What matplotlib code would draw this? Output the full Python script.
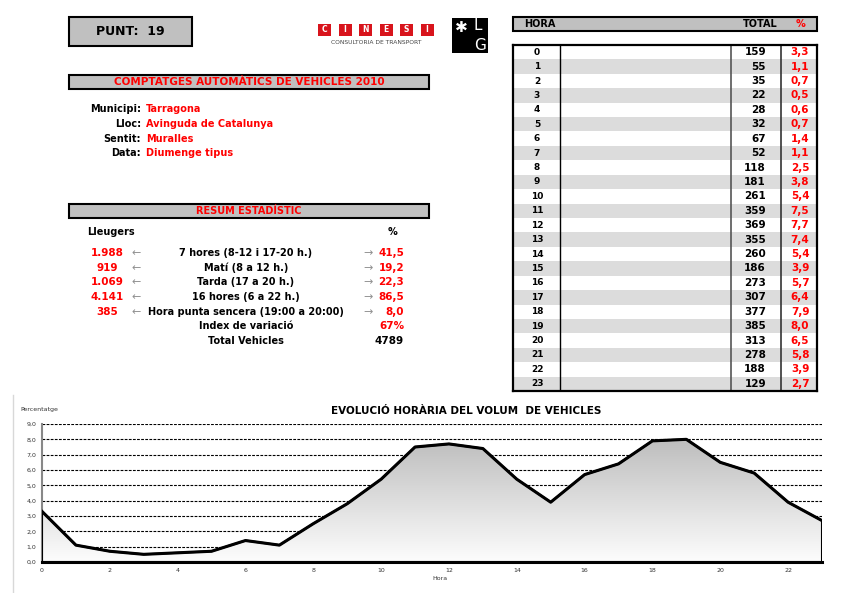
import matplotlib
matplotlib.use("Agg")
import matplotlib.pyplot as plt
import numpy as np
from matplotlib.patches import Rectangle
from matplotlib.ticker import FuncFormatter

# Dades del punt de comptatge
hores = list(range(24))
totals = [159, 55, 35, 22, 28, 32, 67, 52, 118, 181, 261, 359,
          369, 355, 260, 186, 273, 307, 377, 385, 313, 278, 188, 129]
percentatges = [3.3, 1.1, 0.7, 0.5, 0.6, 0.7, 1.4, 1.1, 2.5, 3.8, 5.4, 7.5,
                7.7, 7.4, 5.4, 3.9, 5.7, 6.4, 7.9, 8.0, 6.5, 5.8, 3.9, 2.7]

info_labels = ["Municipi:", "Lloc:", "Sentit:", "Data:"]
info_values = ["Tarragona", "Avinguda de Catalunya", "Muralles", "Diumenge tipus"]

resum_labels = ["7 hores (8-12 i 17-20 h.)", "Matí (8 a 12 h.)", "Tarda (17 a 20 h.)",
                "16 hores (6 a 22 h.)", "Hora punta sencera (19:00 a 20:00)"]
resum_lleugers = ["1.988", "919", "1.069", "4.141", "385"]
resum_pct = [41.5, 19.2, 22.3, 86.5, 8.0]
index_variacio = "67%"
total_vehicles = "4789"

RED = "#ff0000"
GRAY = "#c0c0c0"
FONT = "DejaVu Sans"

W, H = 842, 593
fig = plt.figure(figsize=(W / 100, H / 100), dpi=100)
fig.patch.set_facecolor("white")


def fx(x):
    return x / W


def fy(y):
    return 1 - y / H


def box(x0, y0, x1, y1, lw=1.5, fc=GRAY):
    fig.add_artist(Rectangle((fx(x0), fy(y1)), fx(x1) - fx(x0), fy(y0) - fy(y1),
                             transform=fig.transFigure, fc=fc, ec="black", lw=lw))


def txt(x, y, s, size=7.5, color="black", ha="center", weight="bold", **kw):
    fig.text(fx(x), fy(y), s, fontsize=size, color=color, ha=ha, va="center",
             fontweight=weight, family=FONT, **kw)


# page border line on the left
fig.add_artist(plt.Line2D([fx(13), fx(13)], [fy(395), fy(592)],
                          transform=fig.transFigure, color="#d8d8d8", lw=1))

# PUNT box
box(69, 17, 192, 46)
txt(130, 31.5, "PUNT:  19", size=9)

# CINESI logo
for i, letter in enumerate("CINESI"):
    x0 = 318 + i * 20.5
    fig.add_artist(Rectangle((fx(x0), fy(36)), fx(13), 12 / H, transform=fig.transFigure,
                             fc="#d8141c", ec="none"))
    txt(x0 + 6.5, 30, letter, size=5.5, color="white")
txt(376, 43, "CONSULTORIA DE TRANSPORT", size=4.3, color="#444444", weight="normal")

# LG logo
fig.add_artist(Rectangle((fx(452), fy(53)), fx(36), 35 / H, transform=fig.transFigure,
                         fc="black", ec="none"))
txt(461, 27, "✱", size=11, color="white", weight="normal")
txt(478, 26, "L", size=11, color="white", weight="normal")
txt(480, 45, "G", size=11, color="white", weight="normal")

# COMPTATGES box
box(69, 75, 429, 89)
txt(249, 82, "COMPTATGES AUTOMÀTICS DE VEHICLES 2010", size=7.5, color=RED)

for i, (lab, val) in enumerate(zip(info_labels, info_values)):
    y = 109.5 + i * 14.6
    txt(141, y, lab, ha="right", size=7)
    txt(146, y, val, ha="left", color=RED, size=7)

# RESUM box
box(69, 204, 429, 218)
txt(249, 211, "RESUM ESTADÍSTIC", size=7, color=RED)
txt(87, 232, "Lleugers", ha="left", size=7)
txt(393, 232, "%", ha="center", size=7)

for i, (lab, lv, pv) in enumerate(zip(resum_labels, resum_lleugers, resum_pct)):
    y = 253 + i * 14.7
    txt(107, y, lv, color=RED)
    txt(136, y, "←", size=8, color="#909090", weight="normal")
    txt(246, y, lab, size=7)
    txt(368, y, "→", size=8, color="#909090", weight="normal")
    txt(404, y, f"{pv:.1f}".replace(".", ","), ha="right", color=RED)
txt(246, 326, "Index de variació", size=7)
txt(404, 326, index_variacio, ha="right", color=RED)
txt(246, 340.5, "Total Vehicles", size=7)
txt(404, 340.5, total_vehicles, ha="right")

# Table header
box(513, 17, 817, 31)
txt(524, 24, "HORA", ha="left", size=7)
txt(760, 24, "TOTAL", size=7)
txt(800, 24, "%", color=RED, size=7)

# Table body
tx0, tx1, ty0, ty1 = 513, 817, 45, 391
tab = fig.add_axes([fx(tx0), fy(ty1), fx(tx1) - fx(tx0), fy(ty0) - fy(ty1)])
tab.set_xlim(tx0, tx1)
tab.set_ylim(len(hores), 0)
for h, t, p in zip(hores, totals, percentatges):
    if h % 2 == 1:
        tab.axhspan(h, h + 1, color="#dcdcdc", lw=0)
    tab.text(537, h + 0.5, str(h), ha="center", va="center", fontsize=6.5,
             fontweight="bold", family=FONT)
    tab.text(766, h + 0.5, str(t), ha="right", va="center", fontsize=7.5,
             fontweight="bold", family=FONT)
    tab.text(800, h + 0.5, f"{p:.1f}".replace(".", ","), ha="center", va="center",
             fontsize=7.5, fontweight="bold", color=RED, family=FONT)
tab.axvline(560, color="black", lw=1)
tab.axvline(731, color="#555555", lw=1.2)
tab.axvline(781, color="#333333", lw=1.2)
tab.set_xticks([])
tab.set_yticks([])
for s in tab.spines.values():
    s.set_linewidth(1.6)

# Chart
ax = fig.add_axes([fx(42), fy(562), fx(822) - fx(42), fy(424) - fy(562)])
ax.set_xlim(0, 23)
ax.set_ylim(0, 9)
for v in range(1, 10):
    ax.axhline(v, color="black", lw=0.8, ls=(0, (2.5, 1.2)), zorder=1)

poly = ax.fill_between(hores, percentatges, 0, color="none", ec="black", lw=1.5, zorder=3)
grad = np.linspace(1, 0, 256).reshape(-1, 1)
cmap = matplotlib.colors.LinearSegmentedColormap.from_list("g", ["#fdfdfd", "#bcbcbc"])
img = ax.imshow(grad, extent=[0, 23, 0, 8.2], aspect="auto", cmap=cmap, origin="upper",
                zorder=2)
img.set_clip_path(poly.get_paths()[0], transform=ax.transData)
ax.plot(hores, percentatges, color="black", lw=2.2, zorder=4)

ax.set_xticks(range(0, 23, 2))
ax.set_yticks(range(0, 10))
ax.yaxis.set_major_formatter(FuncFormatter(lambda v, _: f"{v:.1f}".replace(".", ",")))
ax.tick_params(length=0, labelsize=4.5, colors="#333333", pad=4)
for s in ["top", "right"]:
    ax.spines[s].set_visible(False)
ax.spines["left"].set_color("#888888")
ax.spines["left"].set_linewidth(1.5)
ax.spines["bottom"].set_color("black")
ax.spines["bottom"].set_linewidth(2.2)
ax.spines["bottom"].set_zorder(5)

txt(39, 409, "Percentatge", size=4.5, weight="normal", color="#333333")
txt(440, 578, "Hora", size=4.5, weight="normal", color="#333333")
txt(466, 411, "EVOLUCIÓ HORÀRIA DEL VOLUM  DE VEHICLES", size=7.5)

fig.savefig("out.png", dpi=100)
